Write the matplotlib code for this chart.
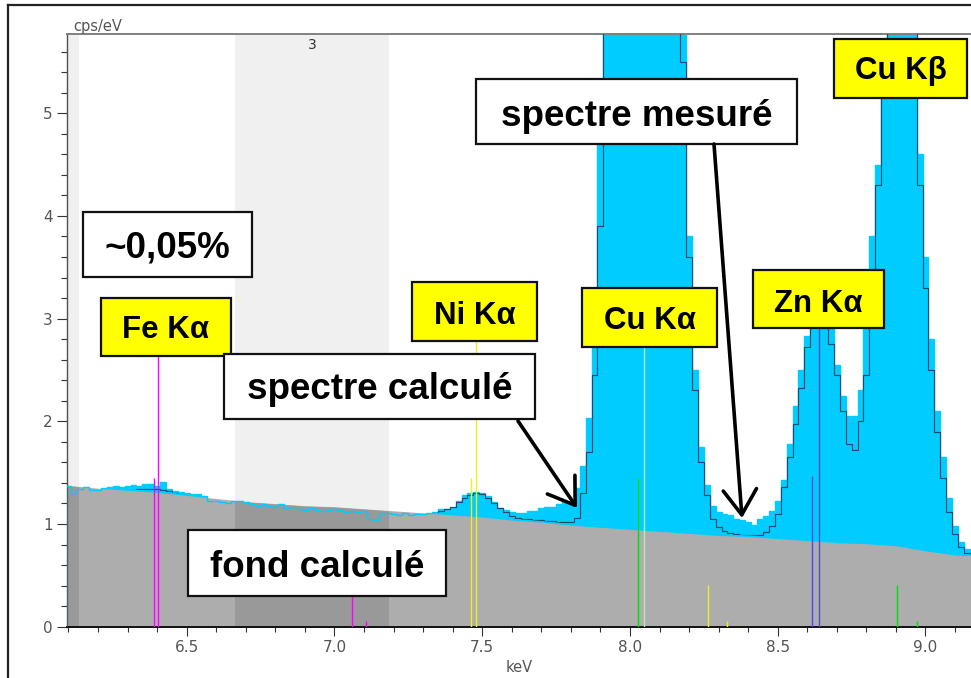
import matplotlib
matplotlib.use("Agg")
import numpy as np
import matplotlib.pyplot as plt
from matplotlib.patches import Rectangle, FancyArrowPatch, Polygon
from matplotlib.lines import Line2D
from matplotlib.ticker import MultipleLocator, FormatStrFormatter
from matplotlib import transforms

W, H = 971, 678

# ---------------------------------------------------------------- data
# spectrum channels: centres every 20 eV from 6.10 to 9.16 keV
channel_start, channel_width, n_channels = 6.10, 0.02, 154
energy = channel_start + channel_width * np.arange(n_channels)
edges = np.append(energy - channel_width / 2, energy[-1] + channel_width / 2)

# measured spectrum (cps/eV)
measured = [
    1.37, 1.30, 1.34, 1.36, 1.33,   1.33, 1.35, 1.36, 1.37, 1.36,
    1.37, 1.38, 1.37, 1.39, 1.39,   1.37, 1.41, 1.34, 1.32, 1.31,
    1.30, 1.29, 1.29, 1.27, 1.22,   1.22, 1.21, 1.20, 1.22, 1.22,
    1.21, 1.19, 1.18, 1.19, 1.18,   1.17, 1.19, 1.16, 1.17, 1.15,
    1.14, 1.16, 1.14, 1.13, 1.14,   1.15, 1.14, 1.12, 1.13, 1.12,
    1.13, 1.05, 1.04, 1.11, 1.11,   1.10, 1.09, 1.11, 1.09, 1.10,
    1.10, 1.11, 1.12, 1.15, 1.15,   1.16, 1.22, 1.28, 1.30, 1.31,
    1.30, 1.27, 1.21, 1.16, 1.14,   1.12, 1.11, 1.11, 1.13, 1.13,
    1.16, 1.17, 1.17, 1.19, 1.21,   1.21, 1.35, 1.56, 2.03, 2.90,
    4.90, 8.6, 14.0, 22.0, 31.0,    41.0, 50.0, 55.0, 54.0, 47.0,
    38.0, 28.0, 19.0, 12.0, 6.3,    3.80, 2.50, 1.75, 1.38, 1.18,
    1.12, 1.10, 1.09, 1.05, 1.04,   1.02, 0.99, 1.05, 1.08, 1.13,
    1.22, 1.43, 1.78, 2.15, 2.50,   2.83, 3.10, 3.20, 3.10, 3.00,
    2.55, 2.25, 2.05, 2.05, 2.30,   2.90, 3.80, 4.50, 5.60, 7.20,
    8.10, 8.20, 7.50, 6.30, 4.60,   3.60, 2.80, 2.10, 1.65, 1.25,
    0.98, 0.82, 0.76, 0.73,
]

# calculated spectrum (fit)
calculated = [
    1.36, 1.36, 1.35, 1.35, 1.34,   1.34, 1.34, 1.33, 1.33, 1.32,
    1.32, 1.33, 1.34, 1.34, 1.34,   1.34, 1.33, 1.32, 1.30, 1.29,
    1.28, 1.27, 1.26, 1.26, 1.25,   1.24, 1.23, 1.23, 1.22, 1.22,
    1.21, 1.21, 1.20, 1.20, 1.19,   1.19, 1.19, 1.18, 1.18, 1.17,
    1.17, 1.17, 1.16, 1.16, 1.16,   1.16, 1.15, 1.15, 1.15, 1.14,
    1.14, 1.13, 1.13, 1.13, 1.12,   1.12, 1.12, 1.11, 1.11, 1.10,
    1.10, 1.10, 1.11, 1.13, 1.15,   1.17, 1.21, 1.25, 1.28, 1.30,
    1.29, 1.25, 1.20, 1.16, 1.12,   1.08, 1.06, 1.05, 1.05, 1.04,
    1.04, 1.03, 1.03, 1.02, 1.02,   1.02, 1.06, 1.30, 1.70, 2.45,
    3.90, 7.8, 13.0, 21.0, 30.0,    40.0, 49.0, 54.0, 53.0, 46.0,
    37.0, 27.0, 18.0, 11.5, 5.5,    3.60, 2.30, 1.60, 1.28, 1.05,
    0.97, 0.93, 0.91, 0.90, 0.89,   0.89, 0.89, 0.89, 0.92, 0.98,
    1.10, 1.36, 1.65, 1.97, 2.32,   2.72, 3.00, 3.10, 3.00, 2.75,
    2.45, 2.10, 1.78, 1.72, 2.00,   2.45, 3.30, 4.30, 5.40, 7.00,
    7.90, 8.00, 7.30, 6.00, 4.30,   3.30, 2.50, 1.90, 1.45, 1.12,
    0.90, 0.78, 0.72, 0.70,
]

# calculated background (fond)
bkg_energy = [6.09, 6.2, 6.3, 6.4, 6.5, 6.6, 6.7, 6.8, 6.9, 7.0, 7.1,
              7.2, 7.3, 7.4, 7.5, 7.6, 7.7, 7.8, 7.9, 8.0, 8.1, 8.2,
              8.3, 8.4, 8.5, 8.6, 8.7, 8.8, 8.9, 9.0, 9.1, 9.17]
background = [1.37, 1.34, 1.32, 1.30, 1.27, 1.24, 1.21, 1.19, 1.17, 1.16,
              1.14, 1.12, 1.10, 1.08, 1.06, 1.03, 1.01, 0.98, 0.96, 0.94,
              0.92, 0.90, 0.88, 0.87, 0.85, 0.83, 0.81, 0.80, 0.78, 0.73,
              0.69, 0.68]

# highlighted energy regions
regions = [(6.095, 6.137), (6.663, 7.185)]
region_names = ["", "3"]

# KLM marker lines
marker_energy = [6.391, 6.404, 7.058, 7.108,
                 7.461, 7.478, 8.265, 8.330,
                 8.028, 8.048, 8.905, 8.970,
                 8.616, 8.639]
marker_height = [1.45, 2.94, 0.45, 0.06,
                 1.45, 2.94, 0.41, 0.06,
                 1.45, 2.94, 0.41, 0.06,
                 1.47, 2.94]
marker_color = ["#ff00ff", "#ff00ff", "#ff00ff", "#ff00ff",
                "#eeee20", "#eeee20", "#eeee20", "#eeee20",
                "#00e000", "#b8e8b8", "#00e000", "#00e000",
                "#4848ff", "#5050c8"]

# annotations
peak_labels = ["Fe K\u03b1", "Ni K\u03b1", "Cu K\u03b1", "Zn K\u03b1", "Cu K\u03b2"]
note_labels = ["~0,05%", "spectre calcul\u00e9", "spectre mesur\u00e9", "fond calcul\u00e9"]

# --------------------------------------------------------------- figure
fig = plt.figure(figsize=(W / 100, H / 100), dpi=100)
fig.patch.set_facecolor("white")


def fx(x):
    return x / W


def fy(y):
    return 1 - y / H


ax_left, ax_top, ax_bottom = 67, 34, 626.7
ax = fig.add_axes([fx(ax_left), fy(ax_bottom), 1 - fx(ax_left),
                   (ax_bottom - ax_top) / H])
ax.set_xlim(6.095, 9.154)
ax.set_ylim(0, 5.771)

# light bands in the upper part
for (a, b) in regions:
    ax.axvspan(a, b, color="#f0f0f0", lw=0, zorder=0)
for (a, b), name in zip(regions, region_names):
    if name:
        ax.text((a + b) / 2, 5.66, name, ha="center", va="center",
                fontsize=10, color="#333333", family="DejaVu Sans")

cyan = "#00ccff"
grey = "#adadad"

# measured spectrum filled
ax.stairs(measured, edges, fill=True, color=cyan, lw=0, zorder=1)

# background filled in grey
bg = ax.fill_between(bkg_energy, 0, background, facecolor=grey,
                     edgecolor=grey, lw=1.2, zorder=2)
bg_path = bg.get_paths()[0]
for (a, b) in regions:
    span = ax.axvspan(a, b, color="#999999", lw=0, zorder=2.1)
    span.set_clip_path(bg_path, ax.transData)

# measured outline (visible where it dips into the background)
ax.stairs(measured, edges, color=cyan, lw=1.0, zorder=3)

# calculated spectrum, shown only above the background
calc = ax.stairs(calculated, edges, color="#1b4d6b", lw=0.85, zorder=4)
above = Polygon(list(zip(bkg_energy, background)) +
                [(bkg_energy[-1], 10), (bkg_energy[0], 10)], closed=True)
shift = transforms.offset_copy(ax.transData, fig=fig, x=0, y=2.0,
                               units="dots")
calc.set_clip_path(above.get_path(), shift)

# KLM markers
ax.vlines(marker_energy, 0, marker_height, colors=marker_color,
          lw=1.0, zorder=5)

# axes styling
ax.spines["right"].set_visible(False)
ax.spines["top"].set_color("#808080")
ax.spines["top"].set_linewidth(1.4)
ax.spines["left"].set_color("#505050")
ax.spines["left"].set_linewidth(1.0)
ax.spines["bottom"].set_color("#111111")
ax.spines["bottom"].set_linewidth(1.4)

ax.xaxis.set_major_locator(MultipleLocator(0.5))
ax.xaxis.set_minor_locator(MultipleLocator(0.1))
ax.xaxis.set_major_formatter(FormatStrFormatter("%.1f"))
ax.yaxis.set_major_locator(MultipleLocator(1))
ax.yaxis.set_minor_locator(MultipleLocator(0.2))
ax.yaxis.set_major_formatter(FormatStrFormatter("%d"))
ax.tick_params(axis="x", which="major", direction="out", length=6.5,
               width=0.8, color="#333333", labelsize=11,
               labelcolor="#555555", pad=3)
ax.tick_params(axis="x", which="minor", direction="out", length=3.6,
               width=0.8, color="#333333")
ax.tick_params(axis="y", which="major", direction="out", length=7.2,
               width=0.8, color="#333333", labelsize=11,
               labelcolor="#555555", pad=3)
ax.tick_params(axis="y", which="minor", direction="out", length=4.3,
               width=0.8, color="#333333")
for lab in ax.get_xticklabels() + ax.get_yticklabels():
    lab.set_family("DejaVu Sans")

fig.text(fx(73), fy(31), "cps/eV", ha="left", va="baseline",
         fontsize=10.5, color="#555555", family="DejaVu Sans")
fig.text(fx(519), fy(672), "keV", ha="center", va="baseline",
         fontsize=10.5, color="#555555", family="DejaVu Sans")

# outer frame
fig.add_artist(Line2D([fx(8), fx(8)], [0, fy(4.5)], transform=fig.transFigure,
                      color="#222222", lw=1.6))
fig.add_artist(Line2D([fx(8), 1], [fy(4.5), fy(4.5)], transform=fig.transFigure,
                      color="#222222", lw=1.6))

# ------------------------------------------------------------ annotations
font = ["Liberation Sans", "DejaVu Sans"]


def box(x, y, w, h, face, text, baseline, size):
    fig.add_artist(Rectangle((fx(x), fy(y + h)), w / W, h / H,
                             transform=fig.transFigure, facecolor=face,
                             edgecolor="#111111", lw=1.6, zorder=10))
    fig.text(fx(x + w / 2), fy(baseline), text, ha="center", va="baseline",
             fontsize=size, fontweight="bold", family=font, color="black",
             zorder=11)


peak_boxes = [(101, 298, 130, 58, 338), (412, 282, 125, 59, 324),
              (582, 288, 135, 59, 329), (753, 270, 131, 58, 312),
              (834, 39, 133, 59, 79)]
for lab, (x, y, w, h, bl) in zip(peak_labels, peak_boxes):
    box(x, y, w, h, "#ffff00", lab, bl, 22.5)

note_boxes = [(83, 212, 169, 65, 258), (224, 354, 311, 65, 399),
              (476, 79, 321, 65, 126), (188, 530, 258, 66, 577)]
for lab, (x, y, w, h, bl) in zip(note_labels, note_boxes):
    box(x, y, w, h, "white", lab, bl, 26.5)

arrows = [((518, 421), (577, 508)), ((714, 144), (742, 518))]
for (x0, y0), (x1, y1) in arrows:
    fig.add_artist(FancyArrowPatch((fx(x0), fy(y0)), (fx(x1), fy(y1)),
                                   transform=fig.transFigure,
                                   arrowstyle="->,head_length=0.6,head_width=0.4",
                                   mutation_scale=30, lw=2.6, color="black",
                                   zorder=12, shrinkA=0, shrinkB=0))

fig.savefig("out.png", dpi=100)
